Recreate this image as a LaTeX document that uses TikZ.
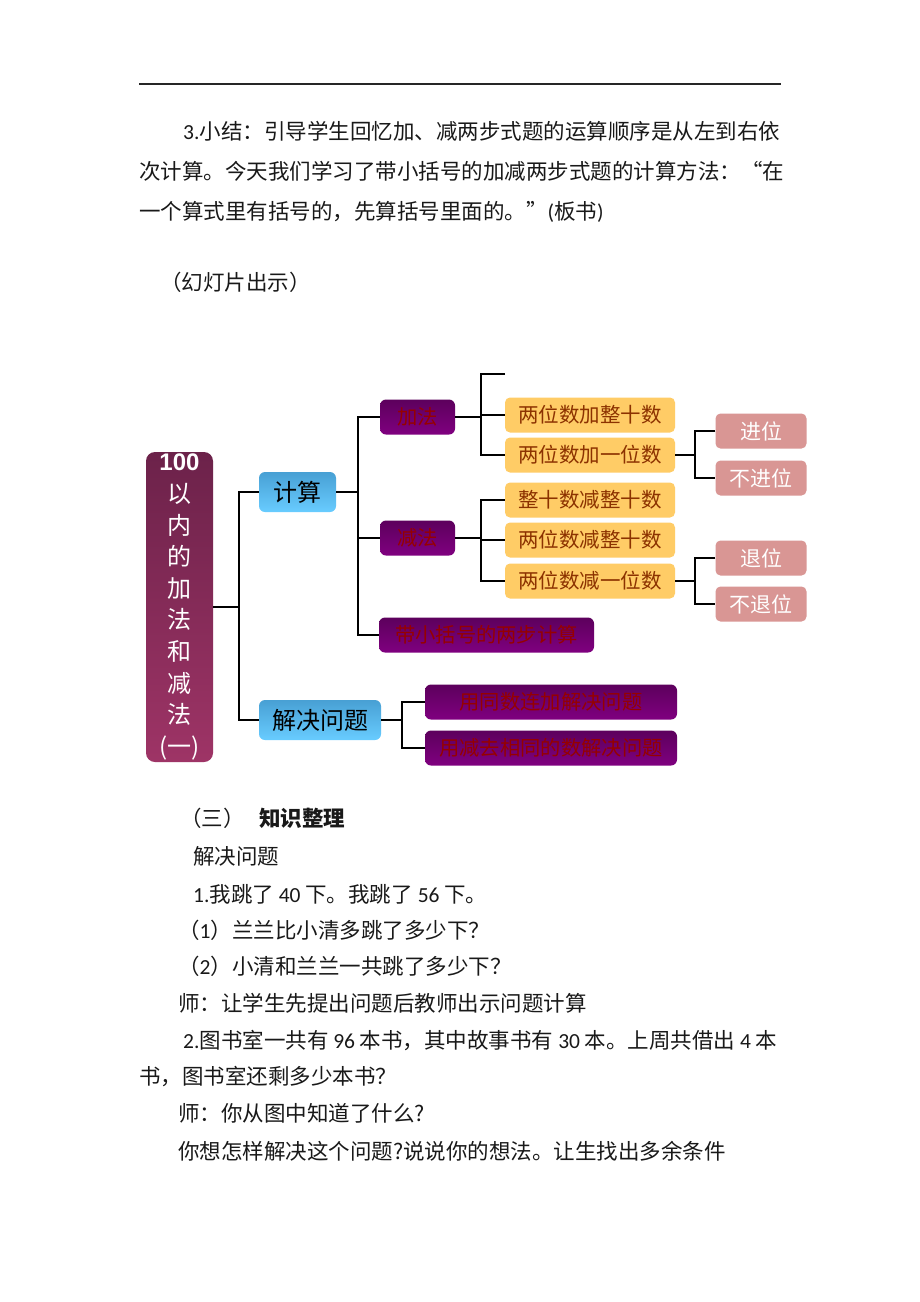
\documentclass[tikz,border=0pt]{standalone}
\usepackage{fontspec}
\setmainfont{Noto Sans CJK SC}
\newfontfamily\lat{Carlito}
\newfontfamily\arialf{Liberation Sans}
\definecolor{rootA}{RGB}{108,34,74}
\definecolor{rootB}{RGB}{158,52,102}
\definecolor{blueA}{RGB}{72,160,212}
\definecolor{blueB}{RGB}{104,204,255}
\definecolor{purA}{RGB}{92,0,92}
\definecolor{purB}{RGB}{128,0,128}
\definecolor{purText}{RGB}{150,0,0}
\definecolor{yel}{RGB}{255,204,102}
\definecolor{yelText}{RGB}{140,50,0}
\definecolor{pinkc}{RGB}{217,150,148}
\definecolor{bodytext}{RGB}{25,25,25}
\begin{document}
\begin{tikzpicture}[x=1pt,y=-1pt,
  conn/.style={line width=2pt, black},
  rootbox/.style={rounded corners=9pt, top color=rootA, bottom color=rootB, text=white, align=center, inner sep=0pt, minimum width=67pt, minimum height=310pt, font=\fontsize{24}{31.6}\selectfont},
  bluebox/.style={rounded corners=6pt, top color=blueA, bottom color=blueB, text=black, inner sep=0pt, minimum height=40pt, font=\fontsize{24}{24}\selectfont},
  purplebox/.style={rounded corners=6pt, top color=purA, bottom color=purB, text=purText, inner sep=0pt, minimum height=35pt, font=\fontsize{20.3}{20.3}\selectfont},
  yellowbox/.style={rounded corners=5pt, fill=yel, text=yelText, inner sep=0pt, minimum width=170pt, minimum height=35pt, font=\fontsize{20.5}{20.5}\selectfont},
  pinkbox/.style={rounded corners=5pt, fill=pinkc, text=white, inner sep=0pt, minimum width=91pt, minimum height=35pt, font=\fontsize{21}{21}\selectfont},
  body/.style={anchor=base west, inner sep=0pt, text=bodytext, font=\fontsize{21.5}{21.5}\selectfont}
]
\useasboundingbox[fill=white] (0,0) rectangle (920,1302);

% top rule
\coordinate (ruleL) at (139,84);
\coordinate (ruleR) at (781,84);
\draw[line width=1.5pt, black!85] (ruleL) -- (ruleR);

% body text top
\node[body] (t1) at (183,139) {{\lat 3.}小结：引导学生回忆加、减两步式题的运算顺序是从左到右依};
\node[body] (t2) at (139,179) {次计算。今天我们学习了带小括号的加减两步式题的计算方法：“在};
\node[body] (t3) at (139,219) {一个算式里有括号的，先算括号里面的。”{\lat (}板书{\lat )}};
\node[body] (t4) at (160,290) {（幻灯片出示）};

% diagram nodes
\node[rootbox] (root) at (179.5,607) {{\arialf\bfseries 100}\\以\\内\\的\\加\\法\\和\\减\\法\\(一)};
\node[bluebox, minimum width=77pt] (jisuan) at (297.5,492) {计算};
\node[bluebox, minimum width=122pt] (jjwt) at (320,720) {解决问题};
\node[purplebox, minimum width=75pt] (jiafa) at (417.5,417) {加法};
\node[purplebox, minimum width=75pt] (jianfa) at (417.5,538) {减法};
\node[purplebox, minimum width=215pt] (dai) at (486.5,635) {带小括号的两步计算};
\node[yellowbox] (y1) at (590,415) {两位数加整十数};
\node[yellowbox] (y2) at (590,455) {两位数加一位数};
\node[yellowbox] (y3) at (590,500) {整十数减整十数};
\node[yellowbox] (y4) at (590,540) {两位数减整十数};
\node[yellowbox] (y5) at (590,581) {两位数减一位数};
\node[pinkbox] (p1) at (761,431) {进位};
\node[pinkbox] (p2) at (761,478) {不进位};
\node[pinkbox] (p3) at (761,558) {退位};
\node[pinkbox] (p4) at (761,604) {不退位};
\node[purplebox, minimum width=252pt] (q1) at (551,702) {用同数连加解决问题};
\node[purplebox, minimum width=252pt] (q2) at (551,748) {用减去相同的数解决问题};

% connectors
\coordinate (sA) at (239,607);
\draw[conn] (root.east) -- (sA);
\draw[conn] (jisuan.west) -| (sA) |- (jjwt.west);
\coordinate (sB) at (358,492);
\draw[conn] (jisuan.east) -- (sB);
\draw[conn] (jiafa.west) -| (sB) |- (dai.west);
\draw[conn] (sB) |- (jianfa.west);
\coordinate (sC) at (481,417);
\coordinate (e1) at (505,374);
\draw[conn] (jiafa.east) -- (sC);
\draw[conn] (e1) -| (sC) |- (y2.west);
\draw[conn] (sC) |- (y1.west);
\coordinate (sD) at (481,538);
\draw[conn] (jianfa.east) -- (sD);
\draw[conn] (y3.west) -| (sD) |- (y5.west);
\draw[conn] (sD) |- (y4.west);
\coordinate (sE) at (695,455);
\draw[conn] (y2.east) -- (sE);
\draw[conn] (p1.west) -| (sE) |- (p2.west);
\coordinate (sF) at (695,581);
\draw[conn] (y5.east) -- (sF);
\draw[conn] (p3.west) -| (sF) |- (p4.west);
\coordinate (sG) at (402,720);
\draw[conn] (jjwt.east) -- (sG);
\draw[conn] (q1.west) -| (sG) |- (q2.west);

% body text bottom
\node[body] (h1) at (180,826) {（三）};
\node[body] (h2) at (259,826) {\bfseries 知识整理};
\node[body] (b1) at (193,864) {解决问题};
\node[body] (b2) at (193,902) {{\lat 1.}我跳了 {\lat 40} 下。我跳了 {\lat 56} 下。};
\node[body] (b3) at (178,938) {（{\lat 1}）兰兰比小清多跳了多少下？};
\node[body] (b4) at (178,974) {（{\lat 2}）小清和兰兰一共跳了多少下？};
\node[body] (b5) at (178,1011) {师：让学生先提出问题后教师出示问题计算};
\node[body] (b6) at (183,1048) {{\lat 2.}图书室一共有 {\lat 96} 本书，其中故事书有 {\lat 30} 本。上周共借出 {\lat 4} 本};
\node[body] (b7) at (139,1084) {书，图书室还剩多少本书？};
\node[body] (b8) at (178,1121) {师：你从图中知道了什么?};
\node[body] (b9) at (178,1159) {你想怎样解决这个问题?说说你的想法。让生找出多余条件};
\end{tikzpicture}
\end{document}
